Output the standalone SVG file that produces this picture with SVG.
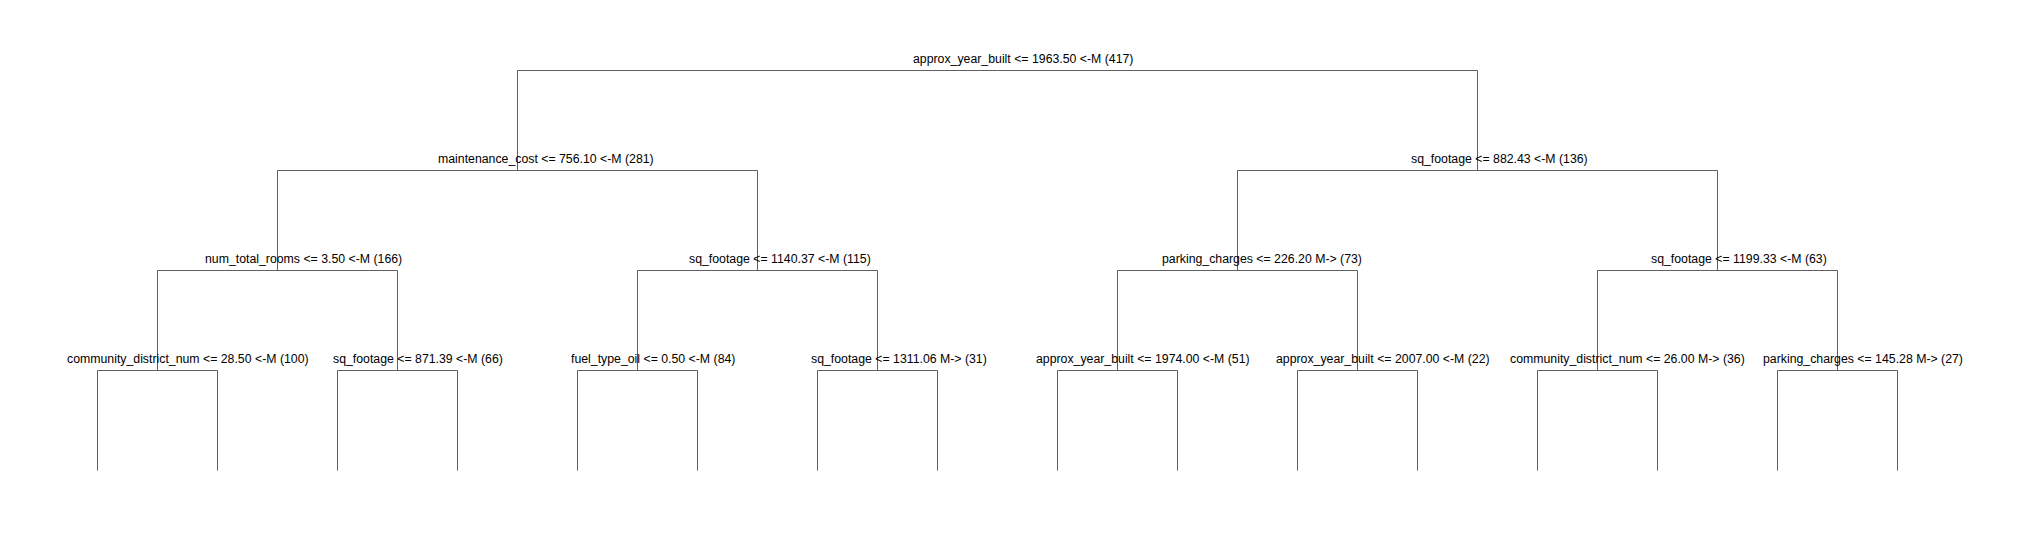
<svg xmlns="http://www.w3.org/2000/svg" width="2031" height="540" viewBox="0 0 2031 540">
<style>
.lbl{font-family:"Liberation Sans",Arial,sans-serif;font-size:12.3px;fill:#000}
.edge{fill:none;stroke:#5f5f5f;stroke-width:1}
</style>
<rect x="0" y="0" width="2031" height="540" fill="#fff"/>
<g id="connectors" class="edge">
<path d="M517.5 70.5H997.5H1477.5"/>
<path d="M517.5 70.5V170.5"/>
<path d="M1477.5 70.5V170.5"/>
<path d="M277.5 170.5H757.5"/>
<path d="M1237.5 170.5H1717.5"/>
<path d="M277.5 170.5V270.5"/>
<path d="M757.5 170.5V270.5"/>
<path d="M1237.5 170.5V270.5"/>
<path d="M1717.5 170.5V270.5"/>
<path d="M157.5 270.5H397.5"/>
<path d="M637.5 270.5H877.5"/>
<path d="M1117.5 270.5H1357.5"/>
<path d="M1597.5 270.5H1837.5"/>
<path d="M157.5 270.5V370.5"/>
<path d="M397.5 270.5V370.5"/>
<path d="M637.5 270.5V370.5"/>
<path d="M877.5 270.5V370.5"/>
<path d="M1117.5 270.5V370.5"/>
<path d="M1357.5 270.5V370.5"/>
<path d="M1597.5 270.5V370.5"/>
<path d="M1837.5 270.5V370.5"/>
<path d="M97.5 370.5H217.5"/>
<path d="M337.5 370.5H457.5"/>
<path d="M577.5 370.5H697.5"/>
<path d="M817.5 370.5H937.5"/>
<path d="M1057.5 370.5H1177.5"/>
<path d="M1297.5 370.5H1417.5"/>
<path d="M1537.5 370.5H1657.5"/>
<path d="M1777.5 370.5H1897.5"/>
<path d="M97.5 370.5V470.5M217.5 370.5V470.5M337.5 370.5V470.5M457.5 370.5V470.5M577.5 370.5V470.5M697.5 370.5V470.5M817.5 370.5V470.5M937.5 370.5V470.5M1057.5 370.5V470.5M1177.5 370.5V470.5M1297.5 370.5V470.5M1417.5 370.5V470.5M1537.5 370.5V470.5M1657.5 370.5V470.5M1777.5 370.5V470.5M1897.5 370.5V470.5"/>
</g>
<g id="n_root"><text class="lbl" x="913" y="63">approx_year_built &lt;= 1963.50 &lt;-M (417)</text></g>
<g id="n_l"><text class="lbl" x="438" y="163">maintenance_cost &lt;= 756.10 &lt;-M (281)</text></g>
<g id="n_r"><text class="lbl" x="1411" y="163">sq_footage &lt;= 882.43 &lt;-M (136)</text></g>
<g id="n_ll"><text class="lbl" x="205" y="263">num_total_rooms &lt;= 3.50 &lt;-M (166)</text></g>
<g id="n_lr"><text class="lbl" x="689" y="263">sq_footage &lt;= 1140.37 &lt;-M (115)</text></g>
<g id="n_rl"><text class="lbl" x="1162" y="263">parking_charges &lt;= 226.20 M-&gt; (73)</text></g>
<g id="n_rr"><text class="lbl" x="1651" y="263">sq_footage &lt;= 1199.33 &lt;-M (63)</text></g>
<g id="n_lll"><text class="lbl" x="67" y="363">community_district_num &lt;= 28.50 &lt;-M (100)</text></g>
<g id="n_llr"><text class="lbl" x="333" y="363">sq_footage &lt;= 871.39 &lt;-M (66)</text></g>
<g id="n_lrl"><text class="lbl" x="571" y="363">fuel_type_oil &lt;= 0.50 &lt;-M (84)</text></g>
<g id="n_lrr"><text class="lbl" x="811" y="363">sq_footage &lt;= 1311.06 M-&gt; (31)</text></g>
<g id="n_rll"><text class="lbl" x="1036" y="363">approx_year_built &lt;= 1974.00 &lt;-M (51)</text></g>
<g id="n_rlr"><text class="lbl" x="1276" y="363">approx_year_built &lt;= 2007.00 &lt;-M (22)</text></g>
<g id="n_rrl"><text class="lbl" x="1510" y="363">community_district_num &lt;= 26.00 M-&gt; (36)</text></g>
<g id="n_rrr"><text class="lbl" x="1763" y="363">parking_charges &lt;= 145.28 M-&gt; (27)</text></g>
</svg>
